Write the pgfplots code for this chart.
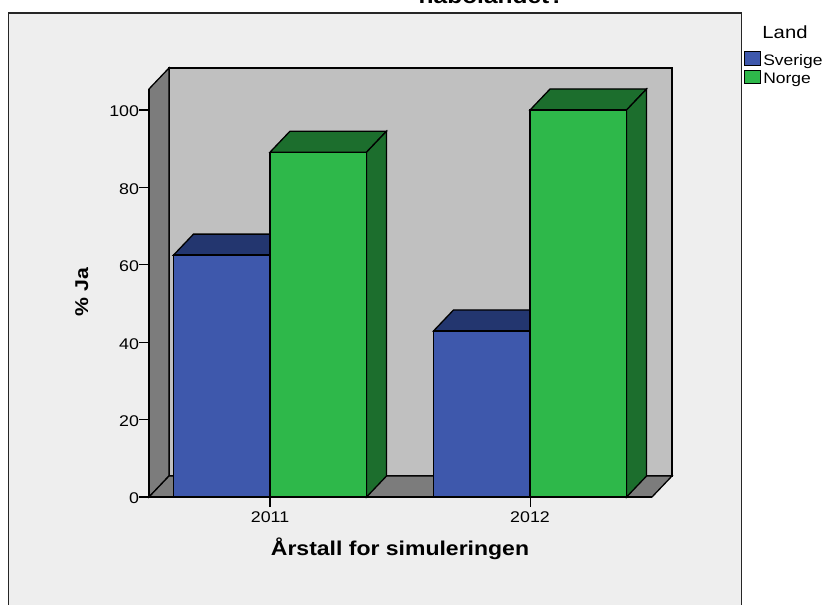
\documentclass[border=0pt]{standalone}
\usepackage{fontspec}
\setmainfont[FakeStretch=1.15]{Liberation Sans}
\usepackage{pgfplots}
\pgfplotsset{compat=1.18}
\definecolor{frameBg}{HTML}{EEEEEE}
\definecolor{wallGrey}{HTML}{C0C0C0}
\definecolor{sideGrey}{HTML}{7C7C7C}
\definecolor{sverigeFront}{HTML}{3E58AC}
\definecolor{sverigeTop}{HTML}{23366F}
\definecolor{norgeFront}{HTML}{2EB84A}
\definecolor{norgeTop}{HTML}{1C6E2D}
\begin{document}
\begin{tikzpicture}[x=1pt,y=1pt,line join=miter]
  % page extent, 825 by 605
  \useasboundingbox (0,0) rectangle (825,605);
  \fill[white] (0,0) rectangle (825,605);
  % chart frame, running off the lower edge
  \draw[black!85,line width=1.2pt,fill=frameBg] (8.5,-5) rectangle (741.5,592);
  % back wall, side wall and floor of the 3-D box
  \draw[black,line width=1.3pt,fill=wallGrey] (169,129) rectangle (672,537);
  \draw[black,line width=1.3pt,fill=sideGrey] (149,108) -- (169,129) -- (169,537) -- (149,516) -- cycle;
  \draw[black,line width=1.3pt,fill=sideGrey] (149,108) -- (169,129) -- (672,129) -- (652,108) -- cycle;
  % title line, running off the upper edge
  \node[font=\bfseries\fontsize{21.3}{21.3}\selectfont,anchor=base] at (491.5,601) {nabolandet?};
  \node[font=\fontsize{17.6}{17.6}\selectfont,anchor=base] at (785,566.5) {Land};
  \begin{axis}[
    at={(149pt,108pt)},anchor=south west,
    scale only axis,width=503pt,height=408pt,
    xmin=2010.5346,xmax=2012.469,ymin=0,ymax=105.43,
    clip=false,
    axis x line*=bottom,axis y line*=left,
    axis line style={-,line width=1.3pt},
    xtick={2011,2012},
    xticklabels={2011,2012},
    ytick={0,20,40,60,80,100},
    tick style={black,line width=1.1pt},
    tick align=outside,
    major tick length=10pt,
    x tick label style={font=\fontsize{15.5}{15.5}\selectfont,yshift=-1pt},
    y tick label style={font=\fontsize{15.5}{15.5}\selectfont,xshift=3.5pt,yshift=-1.5pt},
    /pgf/number format/assume math mode=true,
    /pgf/number format/1000 sep={},
    xlabel={Årstall for simuleringen},
    xlabel style={font=\bfseries\fontsize{20}{20}\selectfont,at={(axis description cs:0.499,0)},anchor=base,yshift=-59pt},
    ylabel={\% Ja},
    ylabel style={font=\bfseries\fontsize{18.5}{18.5}\selectfont,at={(axis description cs:-0.121,0.5025)},anchor=base},
    legend style={at={(595pt,446pt)},anchor=north west,draw=none,fill=none,
      font=\fontsize{15.2}{15.2}\selectfont,inner sep=0pt,row sep=1pt,
      cells={anchor=west},/tikz/every even column/.append style={column sep=4.5pt}},
    legend cell align=left,
  ]
  % Sverige: top, then front
  \addplot[forget plot,black,line width=1.3pt,fill=sverigeTop] coordinates {(2010.6288,62.5) (2011,62.5) (2011.0769,67.93) (2010.7057,67.93)} --cycle;
  \addplot[forget plot,black,line width=1.3pt,fill=sverigeTop] coordinates {(2011.6288,42.9) (2012,42.9) (2012.0769,48.33) (2011.7057,48.33)} --cycle;
  \addplot[ybar,bar width=96.5pt,bar shift=-48.25pt,black,line width=1.3pt,fill=sverigeFront,
    legend image code/.code={\draw[black,line width=1.1pt,fill=sverigeFront] (0,-5pt) rectangle (16pt,8.5pt);}]
    coordinates {(2011,62.5) (2012,42.9)};
  \addlegendentry{Sverige}
  % Norge: top, right-hand side, then front
  \addplot[forget plot,black,line width=1.3pt,fill=norgeTop] coordinates {(2011,89.1) (2011.3712,89.1) (2011.4481,94.53) (2011.0769,94.53)} --cycle;
  \addplot[forget plot,black,line width=1.3pt,fill=norgeTop] coordinates {(2011.3712,0) (2011.4481,5.43) (2011.4481,94.53) (2011.3712,89.1)} --cycle;
  \addplot[forget plot,black,line width=1.3pt,fill=norgeTop] coordinates {(2012,100) (2012.3712,100) (2012.4481,105.43) (2012.0769,105.43)} --cycle;
  \addplot[forget plot,black,line width=1.3pt,fill=norgeTop] coordinates {(2012.3712,0) (2012.4481,5.43) (2012.4481,105.43) (2012.3712,100)} --cycle;
  \addplot[ybar,bar width=96.5pt,bar shift=48.25pt,black,line width=1.3pt,fill=norgeFront,
    legend image code/.code={\draw[black,line width=1.1pt,fill=norgeFront] (0,-5pt) rectangle (16pt,8.5pt);}]
    coordinates {(2011,89.1) (2012,100)};
  \addlegendentry{Norge}
  \end{axis}
\end{tikzpicture}
\end{document}
